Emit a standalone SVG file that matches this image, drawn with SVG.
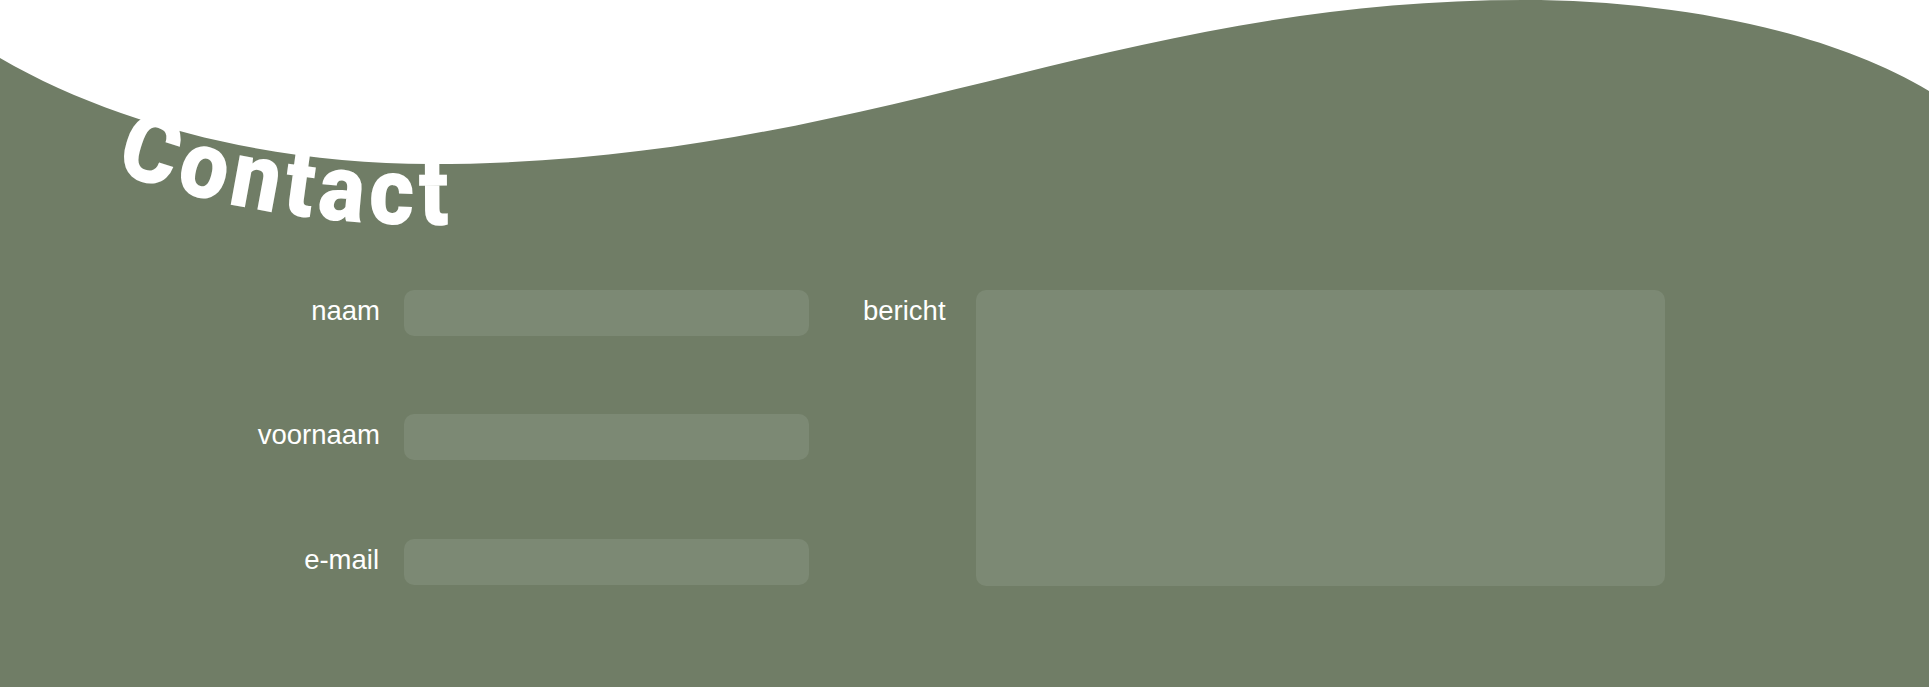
<svg xmlns="http://www.w3.org/2000/svg" width="1930" height="688" viewBox="0 0 1930 688">
  <style>
    .bg { fill: #707d66; }
    .field { fill: #7c8974; }
    .label { font-family: "Liberation Sans", Arial, sans-serif; font-size: 27.5px; fill: #ffffff; }
    .title { font-family: Roboto, "Liberation Sans", sans-serif; font-weight: 900; font-size: 95px; letter-spacing: 6px; fill: #ffffff; }
  </style>
  <defs>
    <path id="titlePath" d="M0,119 C120,189 280,225 430,225 C865,225 1110,61 1524,61"/>
  </defs>
  <rect x="0" y="0" width="1930" height="688" fill="#ffffff"/>
  <path id="wave" class="bg" d="M0,58 C120,128 280,164 430,164 C865,164 1110,0 1524,0 C1674,0 1829,31 1929,91 L1929,687 L0,687 Z"/>
  <g id="title">
    <text class="title"><textPath href="#titlePath" startOffset="126" textLength="346" lengthAdjust="spacingAndGlyphs">Contact</textPath></text>
  </g>
  <g id="field-naam">
    <text class="label" x="380" y="320" text-anchor="end">naam</text>
    <rect class="field" x="404" y="290" width="405" height="46" rx="10"/>
  </g>
  <g id="field-voornaam">
    <text class="label" x="380" y="444" text-anchor="end">voornaam</text>
    <rect class="field" x="404" y="414" width="405" height="46" rx="10"/>
  </g>
  <g id="field-email">
    <text class="label" x="379" y="569" text-anchor="end">e-mail</text>
    <rect class="field" x="404" y="539" width="405" height="46" rx="10"/>
  </g>
  <g id="field-bericht">
    <text class="label" x="863" y="320">bericht</text>
    <rect class="field" x="976" y="290" width="689" height="296" rx="10"/>
  </g>
  <g id="connectors"/>
</svg>
